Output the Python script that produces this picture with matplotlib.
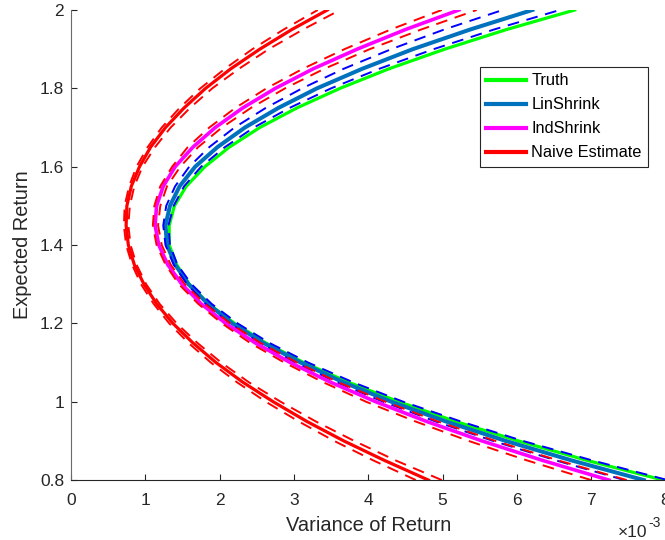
import matplotlib
matplotlib.use("Agg")
import matplotlib.pyplot as plt

plt.rcParams['font.family'] = ['Liberation Sans', 'DejaVu Sans']

# Expected return grid (y) and variance (x, in units of 1e-3)
ret = [0.80, 0.85, 0.90, 0.95, 1.00, 1.05, 1.10, 1.15, 1.20, 1.25, 1.30, 1.35, 1.40,
       1.45, 1.50, 1.55, 1.60, 1.65, 1.70, 1.75, 1.80, 1.85, 1.90, 1.95, 2.00]

truth = [7.97, 6.95, 6.02, 5.17, 4.41, 3.73, 3.13, 2.62, 2.20, 1.85, 1.59, 1.42, 1.32,
         1.32, 1.39, 1.55, 1.80, 2.13, 2.54, 3.04, 3.62, 4.28, 5.03, 5.86, 6.78]

lin = [7.71, 6.74, 5.85, 5.04, 4.31, 3.66, 3.09, 2.59, 2.17, 1.84, 1.58, 1.40, 1.29,
       1.27, 1.33, 1.46, 1.67, 1.97, 2.34, 2.79, 3.31, 3.92, 4.60, 5.37, 6.21]
lin_lo = [7.45, 6.53, 5.68, 4.90, 4.20, 3.57, 3.02, 2.54, 2.14, 1.81, 1.56, 1.38, 1.27,
          1.24, 1.28, 1.40, 1.59, 1.86, 2.20, 2.62, 3.11, 3.67, 4.31, 5.02, 5.81]
lin_hi = [8.03, 7.02, 6.08, 5.24, 4.47, 3.79, 3.19, 2.67, 2.24, 1.89, 1.62, 1.43, 1.33,
          1.31, 1.38, 1.52, 1.75, 2.07, 2.46, 2.94, 3.50, 4.15, 4.88, 5.69, 6.58]

ind = [7.24, 6.35, 5.53, 4.78, 4.10, 3.49, 2.95, 2.48, 2.08, 1.75, 1.49, 1.30, 1.18,
       1.13, 1.15, 1.24, 1.40, 1.64, 1.94, 2.31, 2.75, 3.26, 3.85, 4.50, 5.22]
ind_lo = [7.00, 6.14, 5.35, 4.63, 3.97, 3.39, 2.87, 2.41, 2.03, 1.71, 1.45, 1.27, 1.15,
          1.10, 1.12, 1.20, 1.36, 1.57, 1.86, 2.21, 2.63, 3.12, 3.68, 4.30, 4.99]
ind_hi = [7.48, 6.56, 5.71, 4.93, 4.23, 3.59, 3.04, 2.55, 2.14, 1.80, 1.53, 1.34, 1.22,
          1.17, 1.20, 1.29, 1.47, 1.71, 2.03, 2.42, 2.88, 3.41, 4.02, 4.71, 5.46]

naive = [4.81, 4.22, 3.67, 3.17, 2.72, 2.31, 1.95, 1.64, 1.37, 1.15, 0.98, 0.85, 0.77,
         0.74, 0.75, 0.81, 0.92, 1.07, 1.27, 1.52, 1.81, 2.15, 2.54, 2.97, 3.45]
naive_lo = [4.64, 4.07, 3.54, 3.06, 2.62, 2.23, 1.88, 1.58, 1.32, 1.11, 0.94, 0.82, 0.74,
            0.71, 0.72, 0.78, 0.88, 1.03, 1.22, 1.46, 1.74, 2.07, 2.44, 2.86, 3.32]
naive_hi = [4.99, 4.37, 3.81, 3.29, 2.82, 2.39, 2.02, 1.70, 1.42, 1.19, 1.01, 0.88, 0.80,
            0.77, 0.79, 0.85, 0.96, 1.13, 1.34, 1.60, 1.90, 2.26, 2.66, 3.12, 3.62]

labels = ["Truth", "LinShrink", "IndShrink", "Naive Estimate"]
xticks = [0, 1, 2, 3, 4, 5, 6, 7, 8]
yticks = [0.8, 1.0, 1.2, 1.4, 1.6, 1.8, 2.0]
ytick_labels = ["0.8", "1", "1.2", "1.4", "1.6", "1.8", "2"]

fig = plt.figure(figsize=(6.65, 5.4), dpi=100)
ax = fig.add_axes([0.107, 0.111, 0.8935, 0.8705])

dash = (0, (6, 4))
ax.plot(truth, ret, color=(0, 1, 0), lw=2.3, label=labels[0])
ax.plot(lin, ret, color='#0072BD', lw=2.9, label=labels[1])
ax.plot(lin_lo, ret, color=(0, 0, 1), lw=1.4, ls=dash)
ax.plot(lin_hi, ret, color=(0, 0, 1), lw=1.4, ls=dash)
ax.plot(ind, ret, color=(1, 0, 1), lw=2.6, label=labels[2])
ax.plot(ind_lo, ret, color=(1, 0, 0), lw=1.4, ls=dash)
ax.plot(ind_hi, ret, color=(1, 0, 0), lw=1.4, ls=dash)
ax.plot(naive, ret, color=(1, 0, 0), lw=2.3, label=labels[3])
ax.plot(naive_lo, ret, color=(1, 0, 0), lw=1.4, ls=dash)
ax.plot(naive_hi, ret, color=(1, 0, 0), lw=1.4, ls=dash)

ax.set_xlim(0, 8)
ax.set_ylim(0.8, 2.0)
ax.set_xticks(xticks)
ax.set_xticklabels([str(t) for t in xticks])
ax.set_yticks(yticks)
ax.set_yticklabels(ytick_labels)

for s in ['top', 'right']:
    ax.spines[s].set_visible(False)
ax.spines['left'].set_color('#6a6a6a')
ax.spines['bottom'].set_color('#262626')
ax.spines['left'].set_linewidth(0.8)
ax.spines['bottom'].set_linewidth(0.8)
ax.tick_params(axis='both', direction='in', length=4.5, width=0.8, color='#262626',
               labelsize=12.5, labelcolor='#262626')
ax.tick_params(axis='x', pad=9)
ax.tick_params(axis='y', pad=5)

ax.set_xlabel("Variance of Return", fontsize=14.4, color='#262626', labelpad=6)
ax.set_ylabel("Expected Return", fontsize=14.4, color='#262626', labelpad=6)

leg = ax.legend(loc='upper right', bbox_to_anchor=(0.971, 0.879), borderaxespad=0,
                fontsize=11.8, frameon=True, fancybox=False, framealpha=1,
                edgecolor='#262626', handlelength=2.45, handletextpad=0.3,
                labelspacing=0.55, borderpad=0.4)
leg.get_frame().set_linewidth(0.8)
for line in leg.get_lines():
    line.set_linewidth(3.0)

fig.text(618 / 665, 1 - 537 / 540, "\u00d710", fontsize=12.5, color='#262626',
         ha='left', va='baseline')
fig.text(648 / 665, 1 - 527 / 540, "-3", fontsize=10, color='#262626',
         ha='left', va='baseline')

fig.savefig("out.png", dpi=100)
